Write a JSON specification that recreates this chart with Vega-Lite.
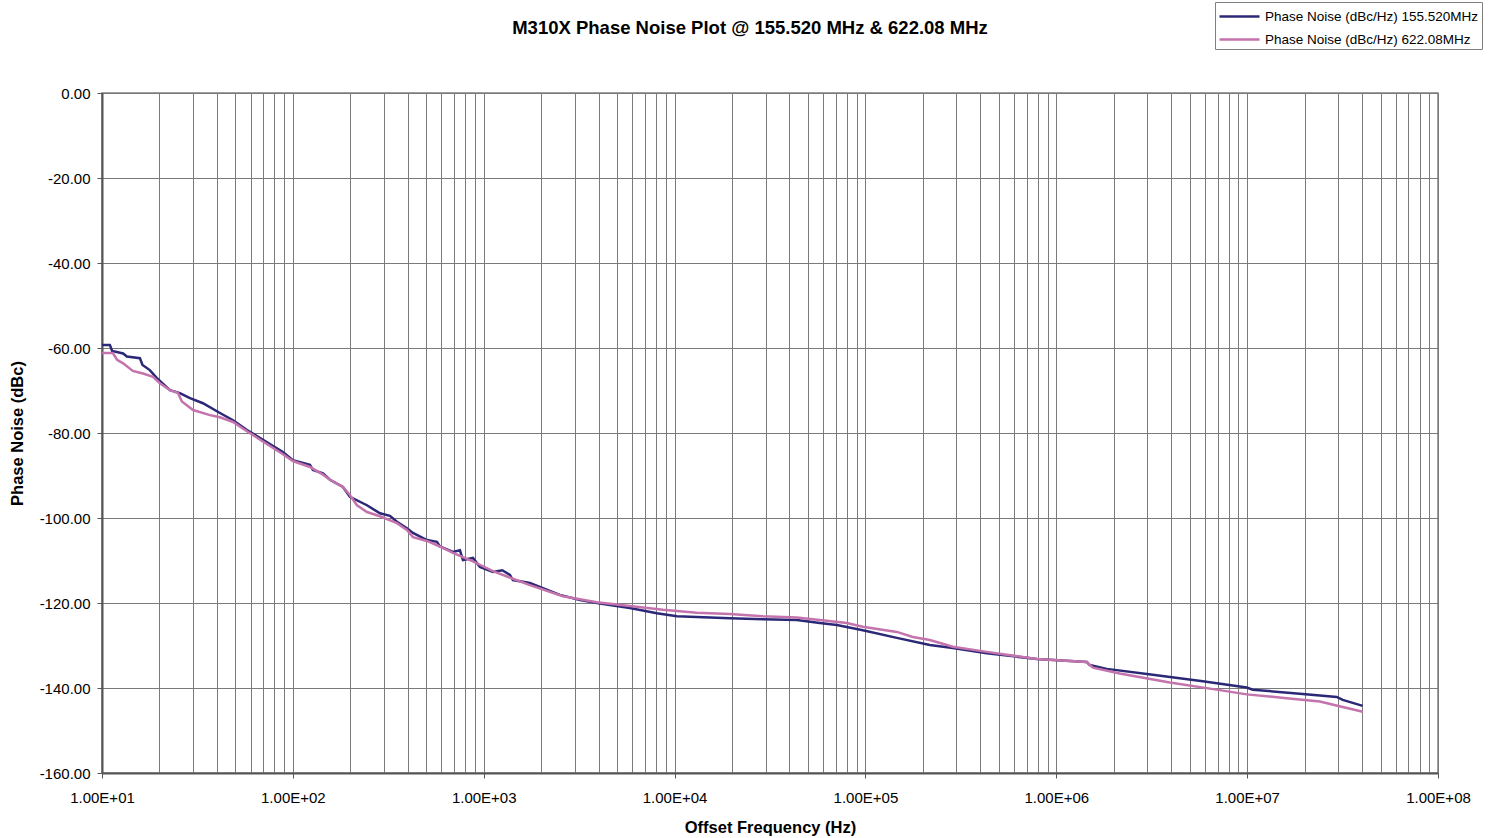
{
  "$schema": "https://vega.github.io/schema/vega-lite/v6.json",
  "width": 1336,
  "height": 680,
  "autosize": {"type": "none"},
  "padding": {"left": 102, "top": 93, "right": 55, "bottom": 65},
  "background": "white",
  "title": {
    "text": "M310X Phase Noise Plot @ 155.520 MHz & 622.08 MHz",
    "font": "Liberation Sans",
    "fontSize": 18.5,
    "fontWeight": "bold",
    "color": "#000000",
    "anchor": "middle",
    "dx": -20,
    "offset": -36
  },
  "config": {
    "view": {"stroke": "#808080", "strokeWidth": 1.5},
    "axis": {
      "labelFont": "Liberation Sans",
      "labelFontSize": 15,
      "labelColor": "#000000",
      "titleFont": "Liberation Sans",
      "titleFontSize": 16.5,
      "titleFontWeight": "bold",
      "titleColor": "#000000",
      "gridColor": "#7a7a7a",
      "gridWidth": 1,
      "gridOpacity": 1,
      "domainColor": "#555555",
      "domainWidth": 2,
      "tickColor": "#555555",
      "tickSize": 5
    }
  },
  "data": {
    "values": [
      {"f": 10, "pn": -59.3, "s": "Phase Noise (dBc/Hz) 155.520MHz"},
      {"f": 11.0, "pn": -59.3, "s": "Phase Noise (dBc/Hz) 155.520MHz"},
      {"f": 11.3, "pn": -60.7, "s": "Phase Noise (dBc/Hz) 155.520MHz"},
      {"f": 12.9, "pn": -61.3, "s": "Phase Noise (dBc/Hz) 155.520MHz"},
      {"f": 13.5, "pn": -62.0, "s": "Phase Noise (dBc/Hz) 155.520MHz"},
      {"f": 15.8, "pn": -62.4, "s": "Phase Noise (dBc/Hz) 155.520MHz"},
      {"f": 16.3, "pn": -64.0, "s": "Phase Noise (dBc/Hz) 155.520MHz"},
      {"f": 17.8, "pn": -65.2, "s": "Phase Noise (dBc/Hz) 155.520MHz"},
      {"f": 19.4, "pn": -67.1, "s": "Phase Noise (dBc/Hz) 155.520MHz"},
      {"f": 22.7, "pn": -69.9, "s": "Phase Noise (dBc/Hz) 155.520MHz"},
      {"f": 25.6, "pn": -70.6, "s": "Phase Noise (dBc/Hz) 155.520MHz"},
      {"f": 28.9, "pn": -71.8, "s": "Phase Noise (dBc/Hz) 155.520MHz"},
      {"f": 33.8, "pn": -73.0, "s": "Phase Noise (dBc/Hz) 155.520MHz"},
      {"f": 41.5, "pn": -75.3, "s": "Phase Noise (dBc/Hz) 155.520MHz"},
      {"f": 48.6, "pn": -77.0, "s": "Phase Noise (dBc/Hz) 155.520MHz"},
      {"f": 57.5, "pn": -79.3, "s": "Phase Noise (dBc/Hz) 155.520MHz"},
      {"f": 69.7, "pn": -81.6, "s": "Phase Noise (dBc/Hz) 155.520MHz"},
      {"f": 88.7, "pn": -84.5, "s": "Phase Noise (dBc/Hz) 155.520MHz"},
      {"f": 100, "pn": -86.4, "s": "Phase Noise (dBc/Hz) 155.520MHz"},
      {"f": 122.9, "pn": -87.5, "s": "Phase Noise (dBc/Hz) 155.520MHz"},
      {"f": 127.4, "pn": -88.7, "s": "Phase Noise (dBc/Hz) 155.520MHz"},
      {"f": 143.8, "pn": -89.5, "s": "Phase Noise (dBc/Hz) 155.520MHz"},
      {"f": 156.4, "pn": -91.0, "s": "Phase Noise (dBc/Hz) 155.520MHz"},
      {"f": 183, "pn": -92.7, "s": "Phase Noise (dBc/Hz) 155.520MHz"},
      {"f": 199, "pn": -95.0, "s": "Phase Noise (dBc/Hz) 155.520MHz"},
      {"f": 244.5, "pn": -97.0, "s": "Phase Noise (dBc/Hz) 155.520MHz"},
      {"f": 286, "pn": -98.9, "s": "Phase Noise (dBc/Hz) 155.520MHz"},
      {"f": 322.6, "pn": -99.5, "s": "Phase Noise (dBc/Hz) 155.520MHz"},
      {"f": 351, "pn": -100.9, "s": "Phase Noise (dBc/Hz) 155.520MHz"},
      {"f": 396, "pn": -102.4, "s": "Phase Noise (dBc/Hz) 155.520MHz"},
      {"f": 425.8, "pn": -103.5, "s": "Phase Noise (dBc/Hz) 155.520MHz"},
      {"f": 504, "pn": -105.2, "s": "Phase Noise (dBc/Hz) 155.520MHz"},
      {"f": 568.6, "pn": -105.6, "s": "Phase Noise (dBc/Hz) 155.520MHz"},
      {"f": 589.7, "pn": -106.7, "s": "Phase Noise (dBc/Hz) 155.520MHz"},
      {"f": 689.7, "pn": -108.0, "s": "Phase Noise (dBc/Hz) 155.520MHz"},
      {"f": 750.6, "pn": -107.6, "s": "Phase Noise (dBc/Hz) 155.520MHz"},
      {"f": 778.3, "pn": -109.9, "s": "Phase Noise (dBc/Hz) 155.520MHz"},
      {"f": 877.9, "pn": -109.4, "s": "Phase Noise (dBc/Hz) 155.520MHz"},
      {"f": 955.2, "pn": -111.5, "s": "Phase Noise (dBc/Hz) 155.520MHz"},
      {"f": 1117, "pn": -112.7, "s": "Phase Noise (dBc/Hz) 155.520MHz"},
      {"f": 1250, "pn": -112.3, "s": "Phase Noise (dBc/Hz) 155.520MHz"},
      {"f": 1372, "pn": -113.4, "s": "Phase Noise (dBc/Hz) 155.520MHz"},
      {"f": 1422, "pn": -114.6, "s": "Phase Noise (dBc/Hz) 155.520MHz"},
      {"f": 1746, "pn": -115.3, "s": "Phase Noise (dBc/Hz) 155.520MHz"},
      {"f": 2507, "pn": -118.1, "s": "Phase Noise (dBc/Hz) 155.520MHz"},
      {"f": 3191, "pn": -119.3, "s": "Phase Noise (dBc/Hz) 155.520MHz"},
      {"f": 4062, "pn": -120.1, "s": "Phase Noise (dBc/Hz) 155.520MHz"},
      {"f": 5832, "pn": -121.2, "s": "Phase Noise (dBc/Hz) 155.520MHz"},
      {"f": 8078, "pn": -122.4, "s": "Phase Noise (dBc/Hz) 155.520MHz"},
      {"f": 10280, "pn": -123.1, "s": "Phase Noise (dBc/Hz) 155.520MHz"},
      {"f": 19490, "pn": -123.6, "s": "Phase Noise (dBc/Hz) 155.520MHz"},
      {"f": 29010, "pn": -123.8, "s": "Phase Noise (dBc/Hz) 155.520MHz"},
      {"f": 43710, "pn": -124.0, "s": "Phase Noise (dBc/Hz) 155.520MHz"},
      {"f": 57690, "pn": -124.7, "s": "Phase Noise (dBc/Hz) 155.520MHz"},
      {"f": 70840, "pn": -125.2, "s": "Phase Noise (dBc/Hz) 155.520MHz"},
      {"f": 96920, "pn": -126.4, "s": "Phase Noise (dBc/Hz) 155.520MHz"},
      {"f": 146100, "pn": -128.2, "s": "Phase Noise (dBc/Hz) 155.520MHz"},
      {"f": 217500, "pn": -129.9, "s": "Phase Noise (dBc/Hz) 155.520MHz"},
      {"f": 287000, "pn": -130.6, "s": "Phase Noise (dBc/Hz) 155.520MHz"},
      {"f": 432400, "pn": -131.8, "s": "Phase Noise (dBc/Hz) 155.520MHz"},
      {"f": 790400, "pn": -133.2, "s": "Phase Noise (dBc/Hz) 155.520MHz"},
      {"f": 1445000, "pn": -133.9, "s": "Phase Noise (dBc/Hz) 155.520MHz"},
      {"f": 1498000, "pn": -134.6, "s": "Phase Noise (dBc/Hz) 155.520MHz"},
      {"f": 1839000, "pn": -135.5, "s": "Phase Noise (dBc/Hz) 155.520MHz"},
      {"f": 3203000, "pn": -136.9, "s": "Phase Noise (dBc/Hz) 155.520MHz"},
      {"f": 5853000, "pn": -138.4, "s": "Phase Noise (dBc/Hz) 155.520MHz"},
      {"f": 9950000, "pn": -139.9, "s": "Phase Noise (dBc/Hz) 155.520MHz"},
      {"f": 10700000, "pn": -140.4, "s": "Phase Noise (dBc/Hz) 155.520MHz"},
      {"f": 19550000, "pn": -141.4, "s": "Phase Noise (dBc/Hz) 155.520MHz"},
      {"f": 29470000, "pn": -142.1, "s": "Phase Noise (dBc/Hz) 155.520MHz"},
      {"f": 31680000, "pn": -142.8, "s": "Phase Noise (dBc/Hz) 155.520MHz"},
      {"f": 40330000, "pn": -144.2, "s": "Phase Noise (dBc/Hz) 155.520MHz"},

      {"f": 10, "pn": -61.2, "s": "Phase Noise (dBc/Hz) 622.08MHz"},
      {"f": 11.4, "pn": -61.2, "s": "Phase Noise (dBc/Hz) 622.08MHz"},
      {"f": 12.0, "pn": -62.8, "s": "Phase Noise (dBc/Hz) 622.08MHz"},
      {"f": 12.9, "pn": -63.6, "s": "Phase Noise (dBc/Hz) 622.08MHz"},
      {"f": 14.5, "pn": -65.4, "s": "Phase Noise (dBc/Hz) 622.08MHz"},
      {"f": 16.4, "pn": -66.0, "s": "Phase Noise (dBc/Hz) 622.08MHz"},
      {"f": 18.5, "pn": -66.8, "s": "Phase Noise (dBc/Hz) 622.08MHz"},
      {"f": 20.1, "pn": -68.3, "s": "Phase Noise (dBc/Hz) 622.08MHz"},
      {"f": 22.7, "pn": -69.9, "s": "Phase Noise (dBc/Hz) 622.08MHz"},
      {"f": 25.0, "pn": -70.6, "s": "Phase Noise (dBc/Hz) 622.08MHz"},
      {"f": 26.2, "pn": -72.6, "s": "Phase Noise (dBc/Hz) 622.08MHz"},
      {"f": 30.0, "pn": -74.6, "s": "Phase Noise (dBc/Hz) 622.08MHz"},
      {"f": 36.8, "pn": -75.8, "s": "Phase Noise (dBc/Hz) 622.08MHz"},
      {"f": 41.5, "pn": -76.3, "s": "Phase Noise (dBc/Hz) 622.08MHz"},
      {"f": 48.6, "pn": -77.4, "s": "Phase Noise (dBc/Hz) 622.08MHz"},
      {"f": 57.5, "pn": -79.6, "s": "Phase Noise (dBc/Hz) 622.08MHz"},
      {"f": 69.7, "pn": -82.0, "s": "Phase Noise (dBc/Hz) 622.08MHz"},
      {"f": 88.7, "pn": -85.0, "s": "Phase Noise (dBc/Hz) 622.08MHz"},
      {"f": 100, "pn": -86.6, "s": "Phase Noise (dBc/Hz) 622.08MHz"},
      {"f": 122.9, "pn": -88.0, "s": "Phase Noise (dBc/Hz) 622.08MHz"},
      {"f": 143.8, "pn": -89.8, "s": "Phase Noise (dBc/Hz) 622.08MHz"},
      {"f": 156.4, "pn": -91.0, "s": "Phase Noise (dBc/Hz) 622.08MHz"},
      {"f": 183, "pn": -92.7, "s": "Phase Noise (dBc/Hz) 622.08MHz"},
      {"f": 199, "pn": -94.6, "s": "Phase Noise (dBc/Hz) 622.08MHz"},
      {"f": 216.7, "pn": -97.0, "s": "Phase Noise (dBc/Hz) 622.08MHz"},
      {"f": 244.5, "pn": -98.6, "s": "Phase Noise (dBc/Hz) 622.08MHz"},
      {"f": 286, "pn": -99.6, "s": "Phase Noise (dBc/Hz) 622.08MHz"},
      {"f": 351, "pn": -101.2, "s": "Phase Noise (dBc/Hz) 622.08MHz"},
      {"f": 396, "pn": -102.8, "s": "Phase Noise (dBc/Hz) 622.08MHz"},
      {"f": 425.8, "pn": -104.5, "s": "Phase Noise (dBc/Hz) 622.08MHz"},
      {"f": 504, "pn": -105.4, "s": "Phase Noise (dBc/Hz) 622.08MHz"},
      {"f": 589.7, "pn": -106.7, "s": "Phase Noise (dBc/Hz) 622.08MHz"},
      {"f": 689.7, "pn": -108.2, "s": "Phase Noise (dBc/Hz) 622.08MHz"},
      {"f": 778.3, "pn": -109.2, "s": "Phase Noise (dBc/Hz) 622.08MHz"},
      {"f": 877.9, "pn": -110.2, "s": "Phase Noise (dBc/Hz) 622.08MHz"},
      {"f": 955.2, "pn": -111.0, "s": "Phase Noise (dBc/Hz) 622.08MHz"},
      {"f": 1117, "pn": -112.5, "s": "Phase Noise (dBc/Hz) 622.08MHz"},
      {"f": 1422, "pn": -114.3, "s": "Phase Noise (dBc/Hz) 622.08MHz"},
      {"f": 1746, "pn": -115.8, "s": "Phase Noise (dBc/Hz) 622.08MHz"},
      {"f": 2599, "pn": -118.4, "s": "Phase Noise (dBc/Hz) 622.08MHz"},
      {"f": 3917, "pn": -119.8, "s": "Phase Noise (dBc/Hz) 622.08MHz"},
      {"f": 5832, "pn": -120.7, "s": "Phase Noise (dBc/Hz) 622.08MHz"},
      {"f": 8685, "pn": -121.6, "s": "Phase Noise (dBc/Hz) 622.08MHz"},
      {"f": 13090, "pn": -122.3, "s": "Phase Noise (dBc/Hz) 622.08MHz"},
      {"f": 19490, "pn": -122.6, "s": "Phase Noise (dBc/Hz) 622.08MHz"},
      {"f": 29010, "pn": -123.1, "s": "Phase Noise (dBc/Hz) 622.08MHz"},
      {"f": 43710, "pn": -123.4, "s": "Phase Noise (dBc/Hz) 622.08MHz"},
      {"f": 57690, "pn": -124.0, "s": "Phase Noise (dBc/Hz) 622.08MHz"},
      {"f": 79910, "pn": -124.7, "s": "Phase Noise (dBc/Hz) 622.08MHz"},
      {"f": 96920, "pn": -125.6, "s": "Phase Noise (dBc/Hz) 622.08MHz"},
      {"f": 146100, "pn": -126.8, "s": "Phase Noise (dBc/Hz) 622.08MHz"},
      {"f": 177200, "pn": -128.0, "s": "Phase Noise (dBc/Hz) 622.08MHz"},
      {"f": 217500, "pn": -128.7, "s": "Phase Noise (dBc/Hz) 622.08MHz"},
      {"f": 287000, "pn": -130.3, "s": "Phase Noise (dBc/Hz) 622.08MHz"},
      {"f": 432400, "pn": -131.5, "s": "Phase Noise (dBc/Hz) 622.08MHz"},
      {"f": 790400, "pn": -133.2, "s": "Phase Noise (dBc/Hz) 622.08MHz"},
      {"f": 1445000, "pn": -133.9, "s": "Phase Noise (dBc/Hz) 622.08MHz"},
      {"f": 1554000, "pn": -135.2, "s": "Phase Noise (dBc/Hz) 622.08MHz"},
      {"f": 2151000, "pn": -136.6, "s": "Phase Noise (dBc/Hz) 622.08MHz"},
      {"f": 3932000, "pn": -138.7, "s": "Phase Noise (dBc/Hz) 622.08MHz"},
      {"f": 7185000, "pn": -140.5, "s": "Phase Noise (dBc/Hz) 622.08MHz"},
      {"f": 9950000, "pn": -141.5, "s": "Phase Noise (dBc/Hz) 622.08MHz"},
      {"f": 16120000, "pn": -142.4, "s": "Phase Noise (dBc/Hz) 622.08MHz"},
      {"f": 24010000, "pn": -143.2, "s": "Phase Noise (dBc/Hz) 622.08MHz"},
      {"f": 40330000, "pn": -145.6, "s": "Phase Noise (dBc/Hz) 622.08MHz"}
    ]
  },
  "mark": {"type": "line", "strokeWidth": 2.5, "interpolate": "linear"},
  "encoding": {
    "x": {
      "field": "f",
      "type": "quantitative",
      "scale": {"type": "log", "domain": [10, 100000000], "nice": false},
      "axis": {
        "title": "Offset Frequency (Hz)",
        "values": [10,20,30,40,50,60,70,80,90,100,200,300,400,500,600,700,800,900,1000,2000,3000,4000,5000,6000,7000,8000,9000,10000,20000,30000,40000,50000,60000,70000,80000,90000,100000,200000,300000,400000,500000,600000,700000,800000,900000,1000000,2000000,3000000,4000000,5000000,6000000,7000000,8000000,9000000,10000000,20000000,30000000,40000000,50000000,60000000,70000000,80000000,90000000,100000000],
        "labelExpr": "abs(log(datum.value)/LN10 - round(log(datum.value)/LN10)) < 0.000001 ? (round(log(datum.value)/LN10) < 10 ? '1.00E+0' + round(log(datum.value)/LN10) : '1.00E+' + round(log(datum.value)/LN10)) : ''",
        "tickOpacity": {"condition": {"test": "abs(log(datum.value)/LN10 - round(log(datum.value)/LN10)) < 0.000001", "value": 1}, "value": 0},
        "labelPadding": 12,
        "labelOverlap": false,
        "labelFlush": false,
        "titlePadding": 14
      }
    },
    "y": {
      "field": "pn",
      "type": "quantitative",
      "scale": {"domain": [-160, 0], "nice": false},
      "axis": {
        "title": "Phase Noise (dBc)",
        "values": [-160,-140,-120,-100,-80,-60,-40,-20,0],
        "labelExpr": "replace(format(datum.value, '.2f'), '\u2212', '-')",
        "labelPadding": 7,
        "titlePadding": 14
      }
    },
    "color": {
      "field": "s",
      "type": "nominal",
      "scale": {
        "domain": ["Phase Noise (dBc/Hz) 155.520MHz", "Phase Noise (dBc/Hz) 622.08MHz"],
        "range": ["#2c2878", "#c473ad"]
      },
      "legend": {
        "title": null,
        "orient": "none",
        "legendX": 1113,
        "legendY": -91,
        "symbolType": "M-1,0H3",
        "symbolSize": 400,
        "symbolStrokeWidth": 2.5,
        "labelFont": "Liberation Sans",
        "labelFontSize": 13.5,
        "labelColor": "#000000",
        "labelLimit": 400,
        "labelOffset": 24,
        "strokeColor": "#808080",
        "fillColor": "white",
        "padding": 3,
        "rowPadding": 5
      }
    }
  }
}
